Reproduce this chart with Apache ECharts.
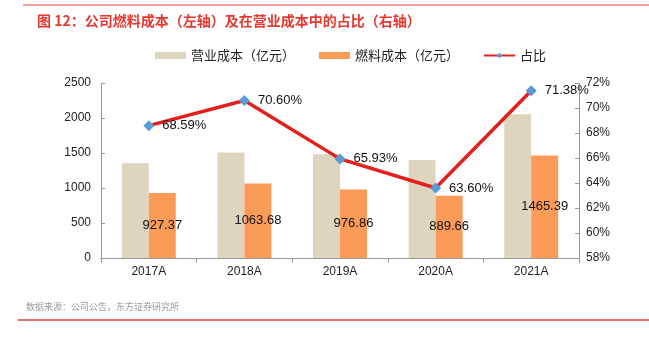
<!DOCTYPE html>
<html>
<head>
<meta charset="utf-8">
<script src="https://cdn.jsdelivr.net/npm/echarts@6/dist/echarts.min.js"></script>
<style>
  html, body { margin: 0; padding: 0; background: #fff; }
  #chart { width: 649px; height: 337px; }
</style>
</head>
<body>
<div id="chart"></div>
<script>
// Fuel cost vs. operating cost, 2017A–2021A
var categories = ['2017A', '2018A', '2019A', '2020A', '2021A'];
var operatingCost = [1352, 1507, 1482, 1399, 2053];      // 营业成本（亿元）
var fuelCost = [927.37, 1063.68, 976.86, 889.66, 1465.39]; // 燃料成本（亿元）
var fuelShare = [68.59, 70.60, 65.93, 63.60, 71.38];       // 占比（%）
var leftTicks = { min: 0, max: 2500, step: 500 };
var rightTicks = { min: 58, max: 72, step: 2 };

var latin = 'Liberation Sans, Arial, Noto Sans CJK SC, sans-serif';
var cjk = 'Noto Sans CJK SC, sans-serif';

var chart = echarts.init(document.getElementById('chart'));
chart.setOption({
  animation: false,
  backgroundColor: '#ffffff',
  title: {
    text: '图 12：公司燃料成本（左轴）及在营业成本中的占比（右轴）',
    left: 32,
    top: 9,
    textStyle: { color: '#e8382f', fontSize: 14, fontWeight: 'bold', fontFamily: cjk }
  },
  graphic: [
    { type: 'line', shape: { x1: 23, y1: 5, x2: 649, y2: 5 }, style: { stroke: '#f2a3a3', lineWidth: 2 } },
    { type: 'line', shape: { x1: 18, y1: 320, x2: 649, y2: 320 }, style: { stroke: '#e0453c', lineWidth: 1.5 } },
    { type: 'text', left: 26, top: 302,
      style: { text: '数据来源：公司公告，东方证券研究所', fill: '#9a9a9a', fontSize: 9, fontFamily: cjk } }
  ],
  legend: {
    left: 150,
    top: 44,
    itemWidth: 31,
    itemHeight: 7,
    itemGap: 24,
    textStyle: { color: '#222', fontSize: 13, fontFamily: cjk },
    data: [
      { name: '营业成本（亿元）', icon: 'rect' },
      { name: '燃料成本（亿元）', icon: 'rect' },
      { name: '占比' }
    ]
  },
  grid: { left: 101, right: 70, top: 83, bottom: 79 },
  xAxis: {
    type: 'category',
    data: categories,
    axisLine: { lineStyle: { color: '#999', width: 1 } },
    axisTick: { show: true, length: 5, lineStyle: { color: '#999' } },
    axisLabel: { color: '#222', fontSize: 12, fontFamily: latin, margin: 8 }
  },
  yAxis: [
    {
      type: 'value',
      min: leftTicks.min, max: leftTicks.max, interval: leftTicks.step,
      axisLine: { show: true, lineStyle: { color: '#999' } },
      axisTick: { show: true, inside: true, length: 4, lineStyle: { color: '#999' } },
      splitLine: { show: false },
      axisLabel: { color: '#222', fontSize: 12, fontFamily: latin, margin: 10,
        formatter: function (v) { return String(v); } }
    },
    {
      type: 'value',
      min: rightTicks.min, max: rightTicks.max, interval: rightTicks.step,
      position: 'right',
      axisLine: { show: true, lineStyle: { color: '#999' } },
      axisTick: { show: true, inside: true, length: 4, lineStyle: { color: '#999' } },
      splitLine: { show: false },
      axisLabel: { color: '#222', fontSize: 12, fontFamily: latin, margin: 7, formatter: '{value}%' }
    }
  ],
  series: [
    {
      name: '营业成本（亿元）',
      type: 'bar',
      data: operatingCost,
      barWidth: 27,
      barGap: '0%',
      itemStyle: { color: '#ddd5bd' }
    },
    {
      name: '燃料成本（亿元）',
      type: 'bar',
      data: fuelCost,
      barWidth: 27,
      barGap: '0%',
      itemStyle: { color: '#fb9b58' },
      label: {
        show: true,
        position: 'inside',
        color: '#111',
        fontSize: 13,
        fontFamily: latin,
        formatter: function (p) { return p.value.toFixed(2); }
      }
    },
    {
      name: '占比',
      type: 'line',
      yAxisIndex: 1,
      data: fuelShare,
      z: 5,
      symbol: 'diamond',
      symbolSize: 11,
      lineStyle: { color: '#e3201b', width: 3.5 },
      itemStyle: { color: '#5b9bd5' },
      label: {
        show: true,
        position: 'right',
        distance: 8,
        color: '#111',
        fontSize: 13,
        fontFamily: latin,
        formatter: function (p) { return p.value.toFixed(2) + '%'; }
      }
    }
  ]
});
</script>
</body>
</html>
